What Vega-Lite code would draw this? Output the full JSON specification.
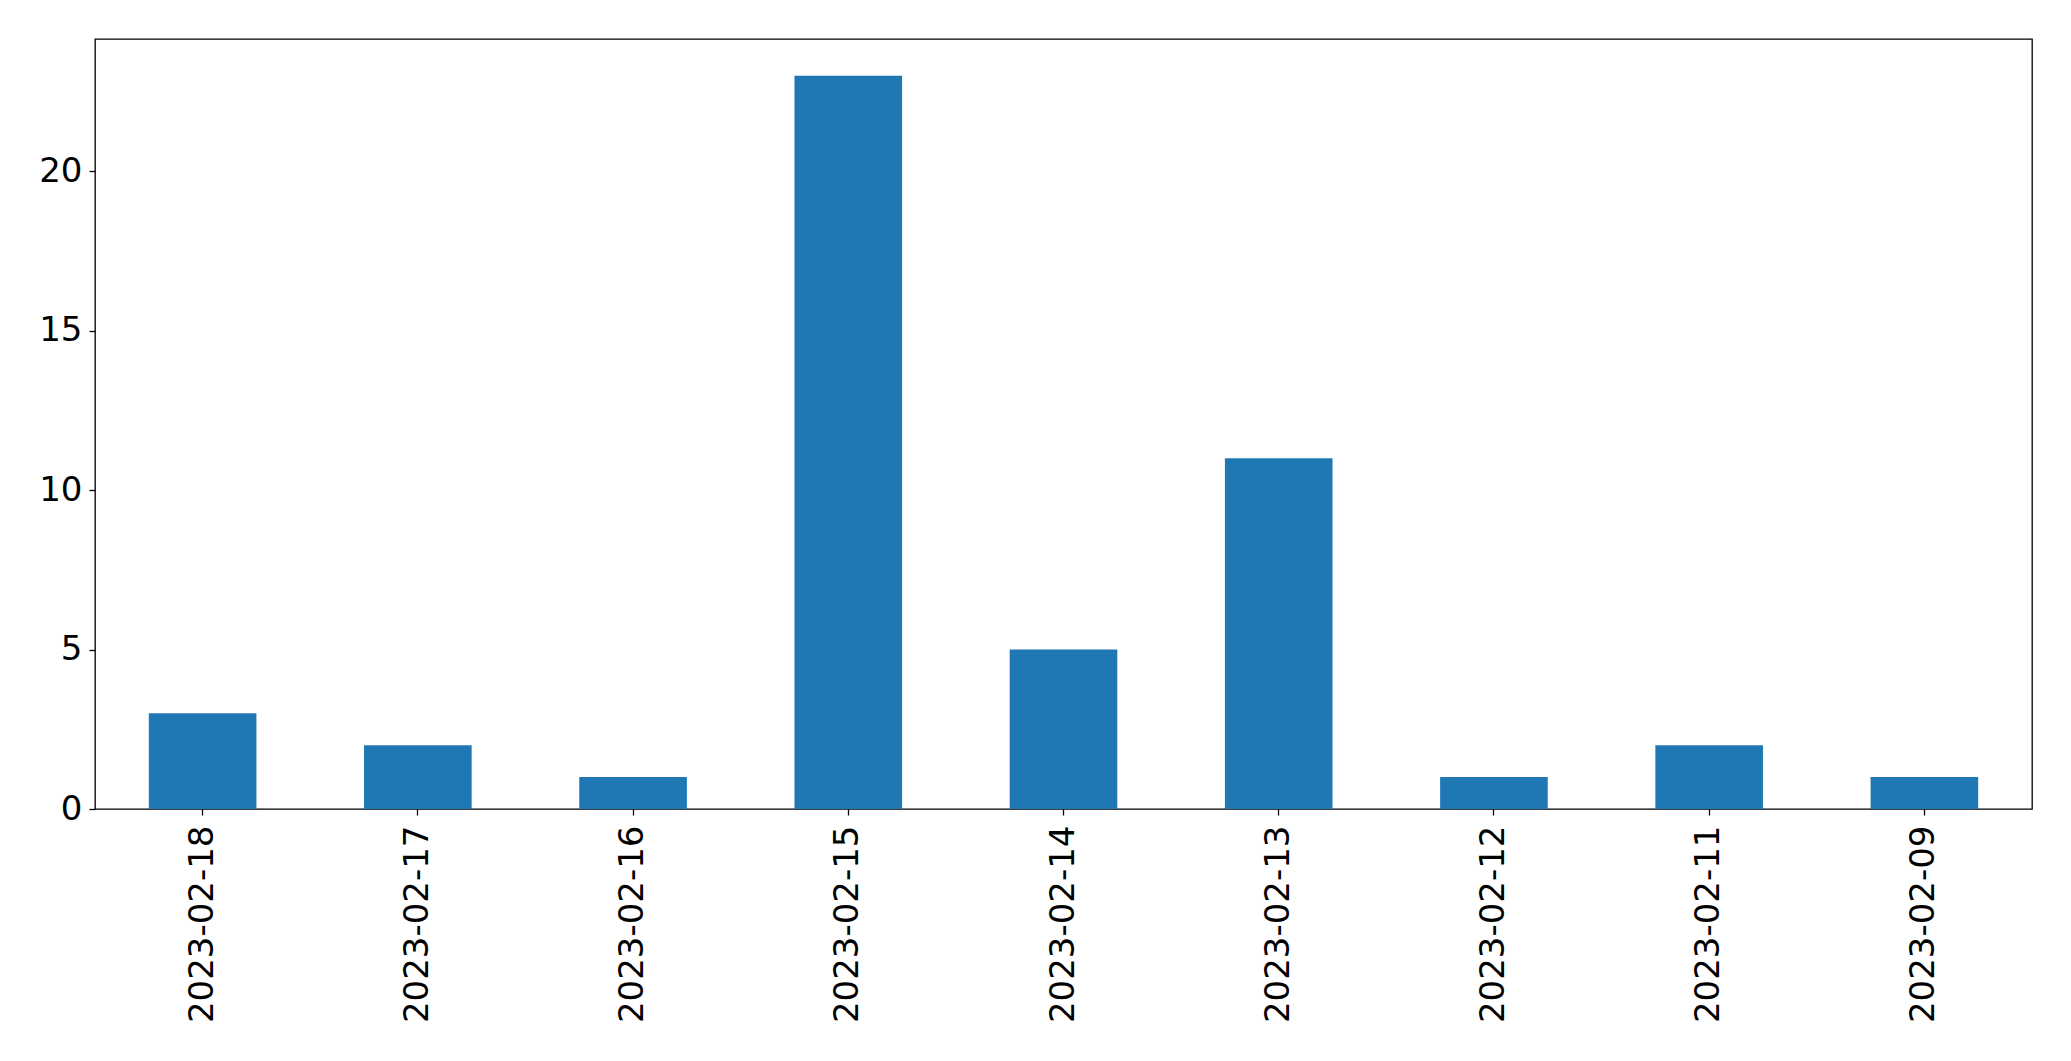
{
  "$schema": "https://vega.github.io/schema/vega-lite/v6.json",
  "width": 1937,
  "height": 770,
  "autosize": {"type": "none"},
  "padding": {"left": 95, "top": 39, "right": 39, "bottom": 252},
  "background": "white",
  "config": {
    "view": {"stroke": "black", "strokeWidth": 1.3},
    "font": "DejaVu Sans"
  },
  "data": {
    "values": [
      {"date": "2023-02-18", "count": 3},
      {"date": "2023-02-17", "count": 2},
      {"date": "2023-02-16", "count": 1},
      {"date": "2023-02-15", "count": 23},
      {"date": "2023-02-14", "count": 5},
      {"date": "2023-02-13", "count": 11},
      {"date": "2023-02-12", "count": 1},
      {"date": "2023-02-11", "count": 2},
      {"date": "2023-02-09", "count": 1}
    ]
  },
  "mark": {"type": "bar", "color": "#1f77b4"},
  "encoding": {
    "x": {
      "field": "date",
      "type": "nominal",
      "sort": null,
      "title": null,
      "scale": {"paddingInner": 0.5, "paddingOuter": 0.25},
      "axis": {
        "domain": false,
        "labelAngle": -90,
        "labelAlign": "right",
        "labelBaseline": "middle",
        "labelFontSize": 34,
        "labelLimit": 0,
        "labelColor": "black",
        "labelFont": "DejaVu Sans",
        "tickColor": "black",
        "tickSize": 6,
        "tickWidth": 1.3,
        "labelPadding": 10
      }
    },
    "y": {
      "field": "count",
      "type": "quantitative",
      "title": null,
      "scale": {"domain": [0, 24.15], "nice": false},
      "axis": {
        "domain": false,
        "grid": false,
        "values": [0, 5, 10, 15, 20],
        "labelFontSize": 34,
        "labelColor": "black",
        "labelFont": "DejaVu Sans",
        "tickColor": "black",
        "tickSize": 6,
        "tickWidth": 1.3,
        "labelPadding": 7
      }
    }
  }
}
